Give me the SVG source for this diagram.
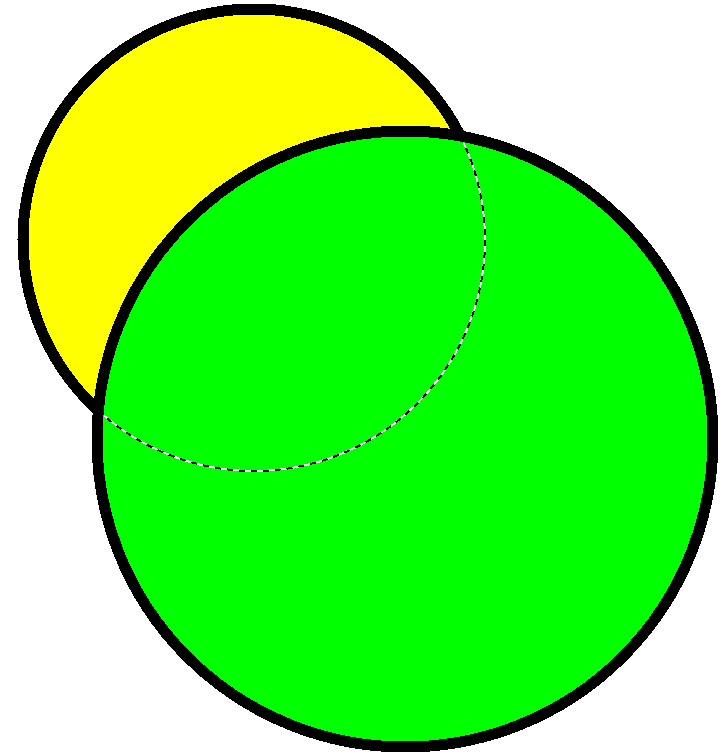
<svg xmlns="http://www.w3.org/2000/svg" width="721" height="755" viewBox="0 0 721 755">
<defs>
<style>
.c{stroke:#000;stroke-width:11}
.dw{fill:none;stroke:#fff;stroke-width:2}
.db{fill:none;stroke:#000;stroke-width:2;stroke-dasharray:6 6}
</style>
<clipPath id="inG"><circle cx="405" cy="439" r="302"/></clipPath>
</defs>
<rect width="721" height="755" fill="#fff"/>
<g id="yellow"><circle class="c" cx="254" cy="240" r="231" fill="#ffff00" shape-rendering="crispEdges"/></g>
<g id="green"><circle class="c" cx="405" cy="439" r="308" fill="#00ff00" shape-rendering="crispEdges"/></g>
<g id="hidden" clip-path="url(#inG)">
<circle class="dw" cx="254" cy="240" r="231" shape-rendering="crispEdges"/>
<circle class="db" cx="254" cy="240" r="231" shape-rendering="crispEdges"/>
</g>
</svg>
